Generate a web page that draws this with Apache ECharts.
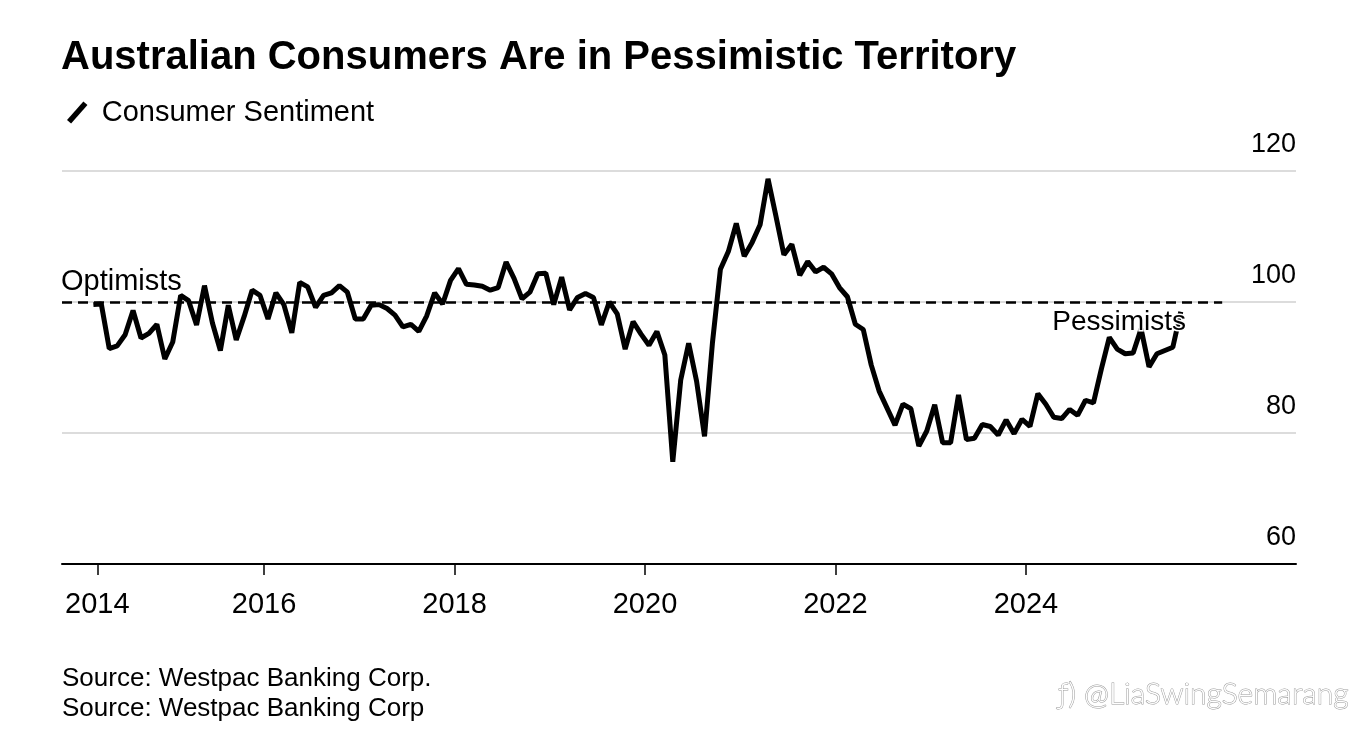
<!DOCTYPE html>
<html>
<head>
<meta charset="utf-8">
<title>Australian Consumers Are in Pessimistic Territory</title>
<script src="https://cdn.jsdelivr.net/npm/echarts@6/dist/echarts.min.js"></script>
<style>
  html, body { margin: 0; padding: 0; background: #fff; }
  #chart { width: 1366px; height: 740px; }
</style>
</head>
<body>
<div id="chart"></div>
<script>
// Westpac-MI consumer sentiment, monthly; 2014 starts in March
var sent2014 = [99.6, 99.7, 92.9, 93.3, 95.0, 98.7, 94.5, 95.2, 96.6, 91.3];
var sent2015 = [93.9, 101.0, 100.2, 96.5, 102.5, 96.8, 92.6, 99.5, 94.2, 97.8, 101.8, 101.0];
var sent2016 = [97.4, 101.4, 99.6, 95.3, 103.0, 102.3, 99.2, 101.0, 101.4, 102.5, 101.5, 97.4];
var sent2017 = [97.4, 99.5, 99.6, 99.0, 98.0, 96.2, 96.6, 95.5, 97.9, 101.4, 99.7, 103.3];
var sent2018 = [105.1, 102.7, 102.6, 102.4, 101.8, 102.2, 106.1, 103.6, 100.5, 101.5, 104.3, 104.4];
var sent2019 = [99.6, 103.8, 98.8, 100.7, 101.3, 100.7, 96.5, 100.0, 98.2, 92.8, 97.0, 95.1];
var sent2020 = [93.4, 95.5, 91.9, 75.6, 88.1, 93.7, 87.9, 79.5, 93.8, 105.0, 107.7, 112.0];
var sent2021 = [107.0, 109.1, 111.8, 118.8, 113.1, 107.2, 108.8, 104.1, 106.2, 104.6, 105.3, 104.3];
var sent2022 = [102.2, 100.8, 96.6, 95.8, 90.4, 86.4, 83.8, 81.2, 84.4, 83.7, 78.0, 80.3];
var sent2023 = [84.3, 78.5, 78.5, 85.8, 79.0, 79.2, 81.3, 81.0, 79.7, 82.0, 79.9, 82.1];
var sent2024 = [81.0, 86.0, 84.4, 82.4, 82.2, 83.6, 82.7, 85.0, 84.6, 89.8, 94.6, 92.8];
var sent2025 = [92.1, 92.2, 95.9, 90.1, 92.1, 92.6, 93.1, 98.5];

var yearRows = [
    [2014, 3, sent2014], [2015, 1, sent2015], [2016, 1, sent2016], [2017, 1, sent2017],
    [2018, 1, sent2018], [2019, 1, sent2019], [2020, 1, sent2020], [2021, 1, sent2021],
    [2022, 1, sent2022], [2023, 1, sent2023], [2024, 1, sent2024], [2025, 1, sent2025]
];

var yearTicks = [2014.25, 2016, 2018, 2020, 2022, 2024];
var yTicks = { min: 60, max: 120, step: 20 };
var neutralLevel = 100;

// x is a decimal year, each point sits mid-month
var points = [];
yearRows.forEach(function (row) {
    row[2].forEach(function (v, k) {
        var m = row[1] + k;
        points.push([row[0] + (m - 0.5) / 12, v]);
    });
});

var font = "'Liberation Sans', Arial, Helvetica, sans-serif";
var chart = echarts.init(document.getElementById('chart'));

var option = {
    animation: false,
    backgroundColor: '#fff',
    textStyle: { fontFamily: font },
    title: {
        text: 'Australian Consumers Are in Pessimistic Territory',
        left: 56,
        top: 33,
        textStyle: { fontFamily: font, fontSize: 40, fontWeight: 'bold', color: '#000' }
    },
    legend: {
        data: ['Consumer Sentiment'],
        left: 62,
        top: 93,
        itemWidth: 25,
        itemHeight: 22,
        icon: 'path://M0,18 L16,0 L20,3.5 L4,21.5 Z',
        textStyle: { fontFamily: font, fontSize: 29, color: '#000', padding: [0, 0, 0, 7] }
    },
    grid: { left: 62, right: 70, top: 171, bottom: 176 },
    xAxis: {
        type: 'value',
        min: 2013.879,
        max: 2026.835,
        splitLine: { show: false },
        axisLine: { lineStyle: { color: '#000', width: 2 } },
        axisTick: {
            show: true, customValues: yearTicks, length: 11,
            lineStyle: { color: '#000', width: 1.5 }
        },
        axisLabel: {
            customValues: yearTicks,
            formatter: function (v) { return String(Math.floor(v)); },
            fontFamily: font, fontSize: 29, color: '#000', margin: 26
        }
    },
    yAxis: {
        type: 'value',
        position: 'right',
        min: yTicks.min,
        max: yTicks.max,
        interval: yTicks.step,
        axisLine: { show: false },
        axisTick: { show: false },
        splitLine: { lineStyle: { color: '#dcdcdc', width: 2 } },
        axisLabel: {
            inside: true, margin: 0,
            fontFamily: font, fontSize: 27, color: '#000',
            verticalAlign: 'bottom', padding: [0, 0, 13, 0]
        }
    },
    series: [{
        name: 'Consumer Sentiment',
        type: 'line',
        data: points,
        showSymbol: false,
        color: '#000',
        lineStyle: { color: '#000', width: 5 },
        markLine: {
            silent: true,
            symbol: ['none', 'none'],
            label: { show: false },
            lineStyle: { color: '#000', width: 2.5, type: [10, 6] },
            data: [[{ coord: [2013.879, neutralLevel] }, { coord: [2026.06, neutralLevel] }]]
        }
    }],
    graphic: [
        {
            type: 'text', left: 61, top: 267, z: 100,
            style: { text: 'Optimists', font: '29px ' + font, fill: '#000' }
        },
        {
            type: 'text', x: 1186, y: 322, z: 100,
            style: {
                text: 'Pessimists', font: '28px ' + font, fill: '#000',
                align: 'right', verticalAlign: 'middle',
                stroke: '#fff', lineWidth: 3
            }
        },
        {
            type: 'text', left: 62, top: 666,
            style: { text: 'Source: Westpac Banking Corp.', font: '26px ' + font, fill: '#000' }
        },
        {
            type: 'text', left: 62, top: 696,
            style: { text: 'Source: Westpac Banking Corp', font: '26px ' + font, fill: '#000' }
        },
        {
            type: 'text', left: 1058, top: 679,
            style: {
                text: 'ƒ) @LiaSwingSemarang', font: '300 30px Lato, ' + font,
                fill: '#fff', stroke: '#9a9a9a', lineWidth: 1
            }
        }
    ]
};

chart.setOption(option);
</script>
</body>
</html>
